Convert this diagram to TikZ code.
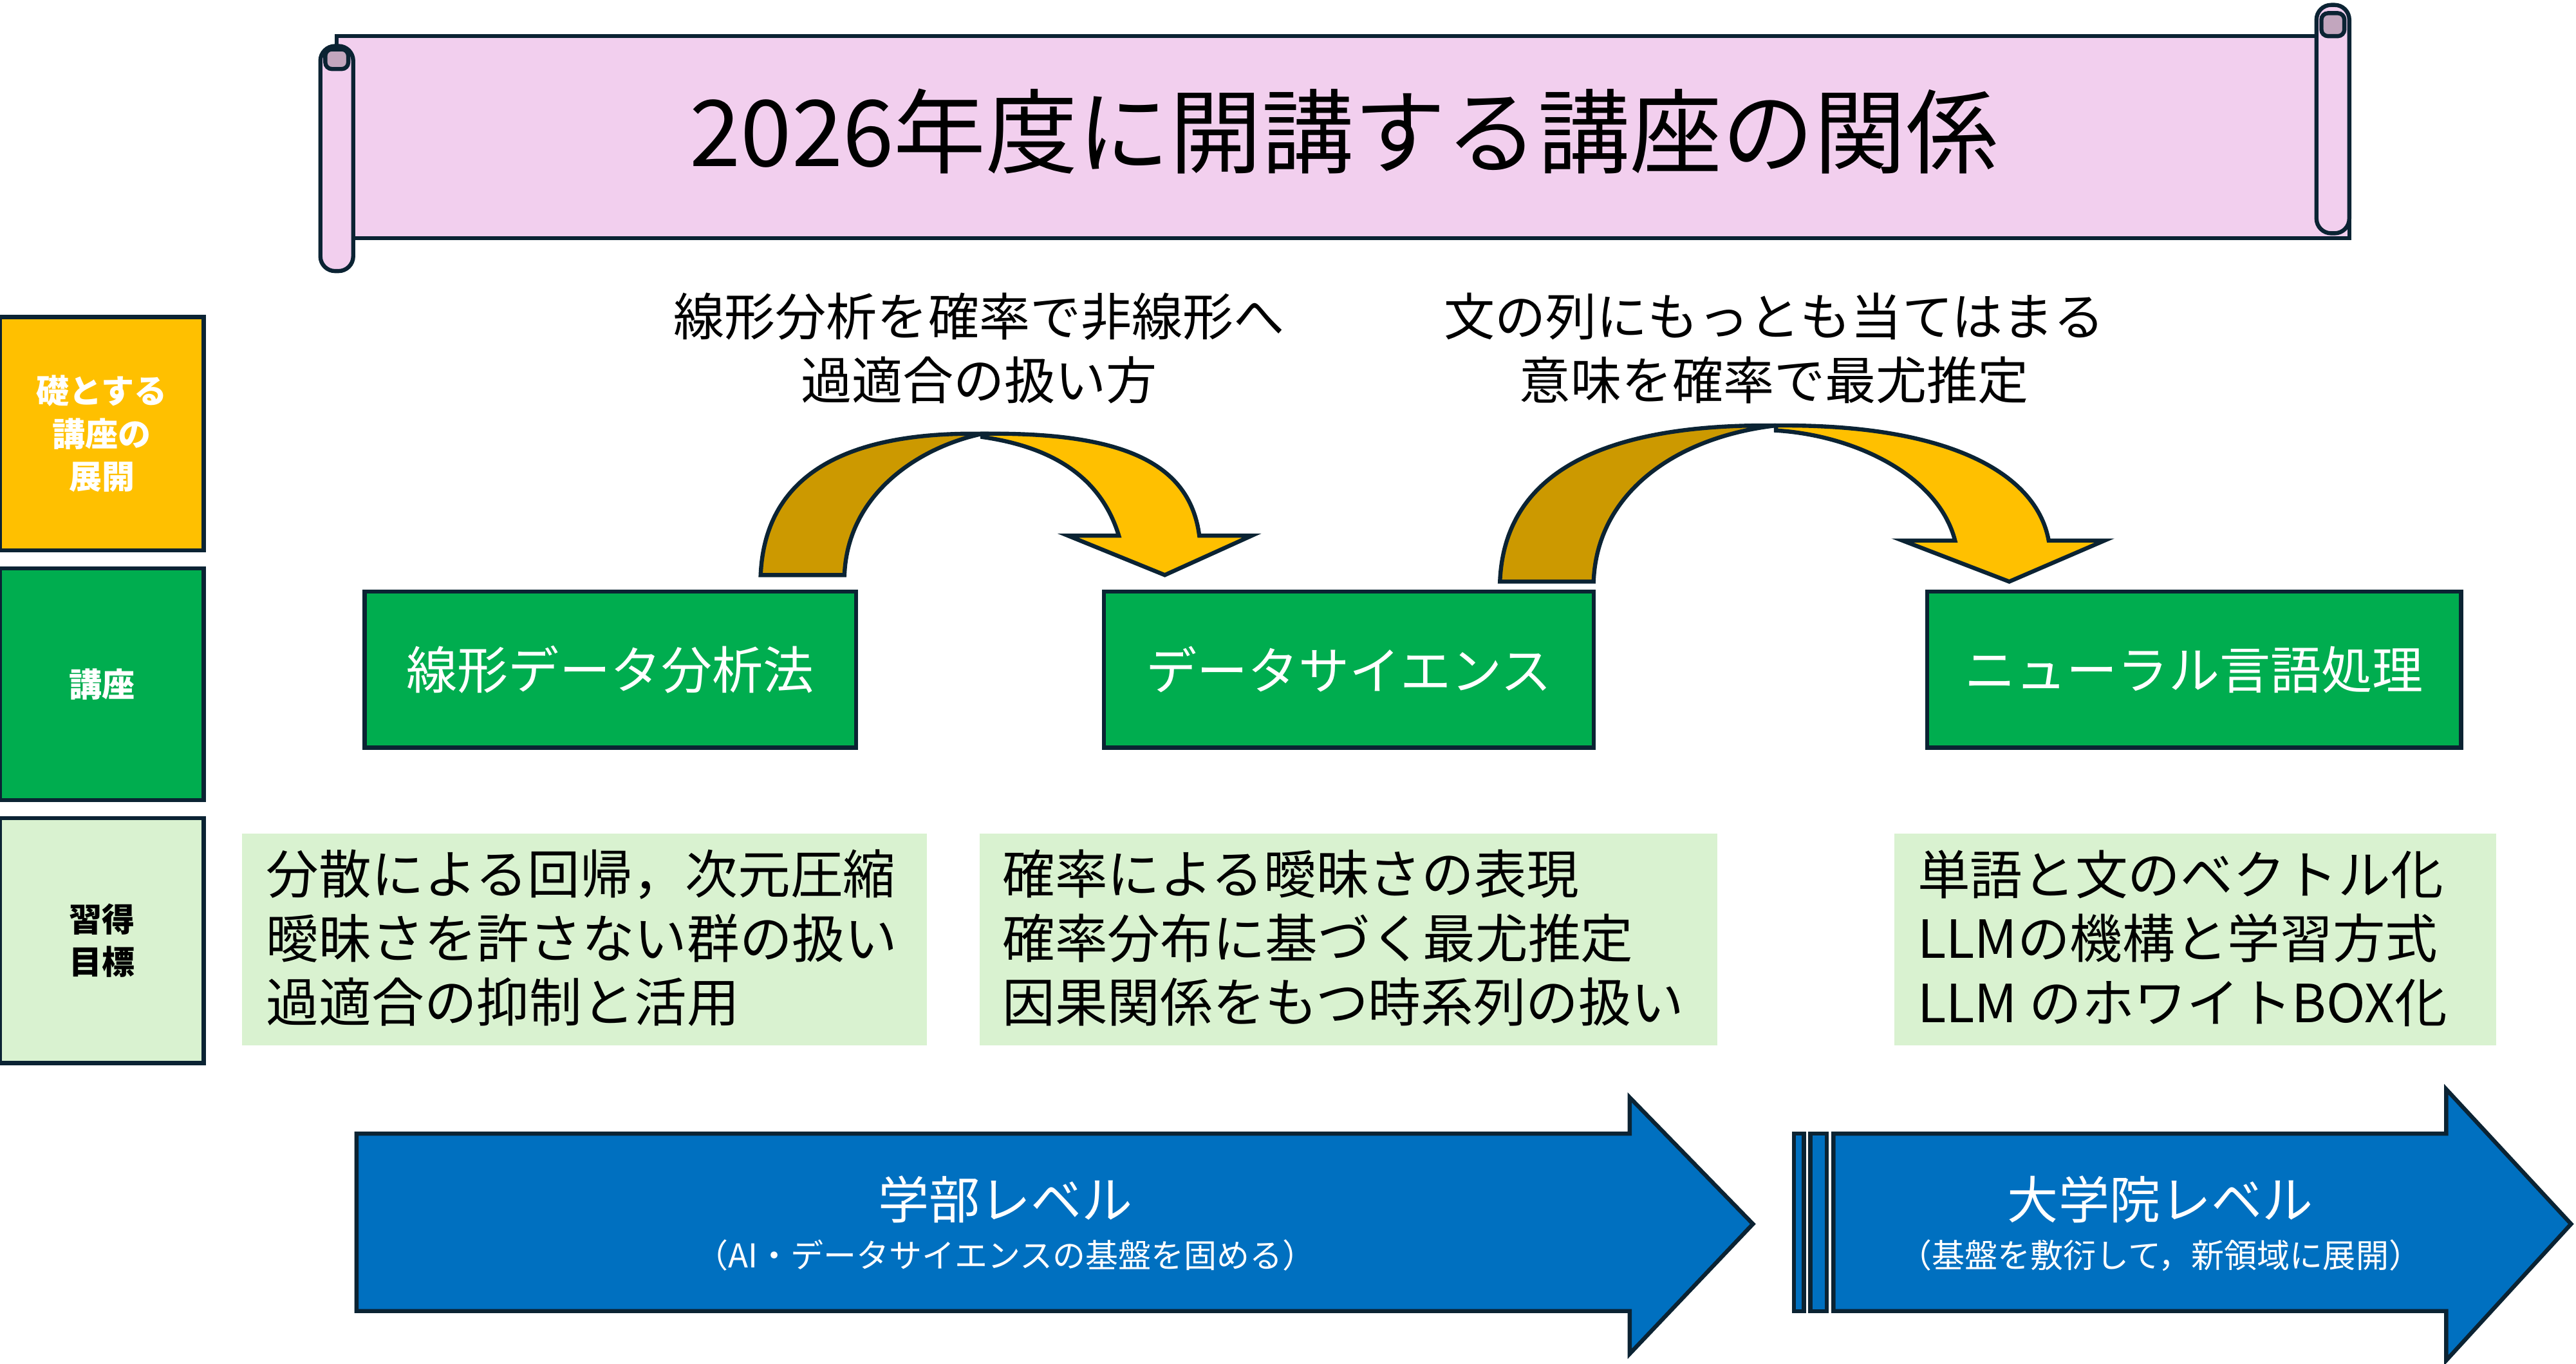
\documentclass[tikz,border=0pt]{standalone}
\usepackage{fontspec}
\setmainfont{Noto Sans CJK JP}
\begin{document}
\begin{tikzpicture}[x=1pt,y=-1pt,
 edge/.style={draw=navy,line width=2.5pt,line join=miter},
 lbl/.style={edge,minimum width=124pt,align=center,font=\bfseries\fontsize{20}{26}\selectfont,inner sep=0pt},
 course/.style={edge,fill=cgreen,text=white,font=\fontsize{31}{36}\selectfont,inner sep=0pt,minimum height=95pt},
 goal/.style={fill=lgreen,anchor=north west,inner sep=0pt},
 gtext/.style={anchor=west,align=left,font=\fontsize{32}{39}\selectfont,inner sep=0pt},
 captxt/.style={align=center,font=\fontsize{31}{39}\selectfont},
 bigt/.style={text=white,font=\fontsize{31}{36}\selectfont},
 subt/.style={text=white,font=\fontsize{20}{24}\selectfont}]
\definecolor{navy}{HTML}{0B2333}
\definecolor{cgreen}{HTML}{00AD4F}
\definecolor{lgreen}{HTML}{D9F2D0}
\definecolor{gold}{HTML}{FFC000}
\definecolor{dgold}{HTML}{CC9900}
\definecolor{pinkc}{HTML}{F2CFEE}
\definecolor{bblue}{HTML}{0070C0}
\useasboundingbox (0,0) rectangle (1568,830);
% scroll
\draw[edge,fill=pinkc] (1410,22) -- (205,22) -- (205,145) -- (1430,145) -- (1430,22);
\draw[edge,fill=pinkc,rounded corners=9pt] (1410,22) -- (1410,3) -- (1430,3) -- (1430,142) -- (1410,142) -- cycle;
\draw[edge,fill=pinkc!80!black,rounded corners=4pt] (1413,8) rectangle (1427,22);
\draw[edge,fill=pinkc,rounded corners=9pt] (195,28) rectangle (215,165);
\draw[edge,fill=pinkc!80!black,rounded corners=4pt] (198,30) rectangle (212,42);
\node[font=\fontsize{56}{60}\selectfont] (title) at (818,80) {2026年度に開講する講座の関係};
% captions
\node[captxt] (c1) at (596,212) {線形分析を確率で非線形へ\\過適合の扱い方};
\node[captxt] (c2) at (1080,212) {文の列にもっとも当てはまる\\意味を確率で最尤推定};
% curved arrows
\draw[edge,fill=dgold] (463,350) .. controls (466,280) and (530,263) .. (598,264)
  .. controls (560,272) and (516,300) .. (514,350) -- cycle;
\draw[edge,fill=gold] (598,264) .. controls (680,263) and (724,280) .. (730,326)
  -- (762,326) -- (709,350) -- (650,326) -- (681,326) .. controls (670,290) and (640,272) .. (598,266) -- cycle;
\draw[edge,fill=dgold] (913,354) .. controls (916,280) and (990,258) .. (1081,259)
  .. controls (1020,266) and (972,300) .. (970,354) -- cycle;
\draw[edge,fill=gold] (1081,259) .. controls (1190,258) and (1240,290) .. (1247,329)
  -- (1281,329) -- (1223,354) -- (1158,329) -- (1190,329) .. controls (1180,290) and (1130,265) .. (1081,262) -- cycle;
% left labels
\node[lbl,fill=gold,text=white,minimum height=142pt] (l1) at (62,264) {礎とする\\講座の\\展開};
\node[lbl,fill=cgreen,text=white,minimum height=141pt] (l2) at (62,416.5) {講座};
\node[lbl,fill=lgreen,text=black,minimum height=149pt] (l3) at (62,572.5) {習得\\目標};
% courses
\node[course,minimum width=299pt] (k1) at (371.5,407.5) {線形データ分析法};
\node[course,minimum width=298pt] (k2) at (821,407.5) {データサイエンス};
\node[course,minimum width=325pt] (k3) at (1335.5,407.5) {ニューラル言語処理};
% goals
\node[goal,minimum width=417pt,minimum height=129pt] (g1) at (147,507) {};
\node[gtext] (t1) at (162,571) {分散による回帰，次元圧縮\\曖昧さを許さない群の扱い\\過適合の抑制と活用};
\node[goal,minimum width=449pt,minimum height=129pt] (g2) at (596,507) {};
\node[gtext] (t2) at (610,571) {確率による曖昧さの表現\\確率分布に基づく最尤推定\\因果関係をもつ時系列の扱い};
\node[goal,minimum width=366pt,minimum height=129pt] (g3) at (1153,507) {};
\node[gtext] (t3) at (1167,571) {単語と文のベクトル化\\LLMの機構と学習方式\\LLM のホワイトBOX化};
% blue arrows
\draw[edge,fill=bblue] (217,690) -- (992,690) -- (992,668) -- (1067,745) -- (992,824) -- (992,798) -- (217,798) -- cycle;
\draw[edge,fill=bblue] (1092,690) rectangle (1098,798);
\draw[edge,fill=bblue] (1102,690) rectangle (1112,798);
\draw[edge,fill=bblue] (1116,690) -- (1489,690) -- (1489,663) -- (1565,745) -- (1489,828) -- (1489,798) -- (1116,798) -- cycle;
\node[bigt] (b1) at (612,730) {学部レベル};
\node[subt] (s1) at (612,764) {（AI・データサイエンスの基盤を固める）};
\node[bigt] (b2) at (1315,730) {大学院レベル};
\node[subt] (s2) at (1315,764) {（基盤を敷衍して，新領域に展開）};
\end{tikzpicture}
\end{document}
